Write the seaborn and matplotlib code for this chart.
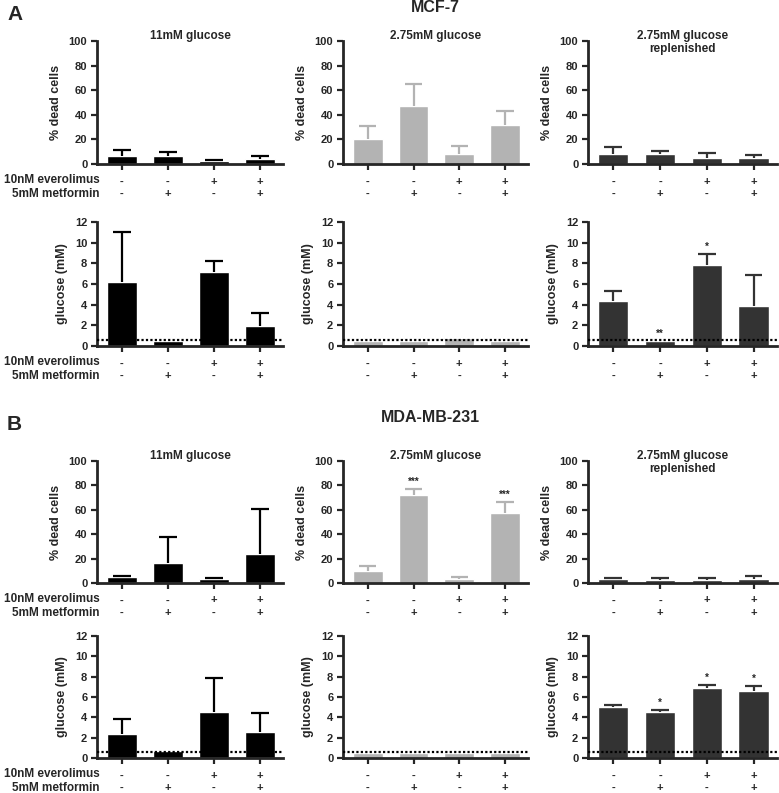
import numpy as np
import pandas as pd
import matplotlib
matplotlib.use("Agg")
import matplotlib.pyplot as plt
import seaborn as sns

conditions = ["11mM glucose", "2.75mM glucose", "2.75mM glucose\nreplenished"]
everolimus = ["-", "-", "+", "+"]
metformin = ["-", "+", "-", "+"]
treatments = ["ctrl", "met", "eve", "eve+met"]
bar_colors = ["#000000", "#b3b3b3", "#333333"]

# MCF-7
mcf7_dead = [[6.5, 6.5, 2.5, 4.0], [20, 47, 8, 32], [8.5, 8.0, 5.0, 4.5]]
mcf7_dead_err = [[4.5, 3.0, 0.5, 2.5], [11, 18, 6.5, 11], [5.5, 2.5, 4.0, 2.5]]
mcf7_dead_sig = [["", "", "", ""], ["", "", "", ""], ["", "", "", ""]]
mcf7_glc = [[6.2, 0.5, 7.2, 1.9], [0.45, 0.45, 0.75, 0.45], [4.4, 0.5, 7.85, 3.9]]
mcf7_glc_err = [[4.8, 0, 1.0, 1.3], [0, 0, 0, 0], [0.9, 0, 1.05, 2.95]]
mcf7_glc_sig = [["", "", "", ""], ["", "", "", ""], ["", "**", "*", ""]]

# MDA-MB-231
mda_dead = [[5, 16, 3.5, 24], [10, 72.5, 3, 57.5], [3, 2.5, 2.5, 3.5]]
mda_dead_err = [[1, 21.5, 0.5, 36.5], [4, 4.5, 2, 8.5], [1, 1.5, 1.5, 2.5]]
mda_dead_sig = [["", "", "", ""], ["", "***", "", "***"], ["", "", "", ""]]
mda_glc = [[2.4, 0.65, 4.5, 2.6], [0.45, 0.45, 0.45, 0.45], [5.0, 4.5, 6.85, 6.55]]
mda_glc_err = [[1.4, 0, 3.4, 1.8], [0, 0, 0, 0], [0.25, 0.2, 0.3, 0.5]]
mda_glc_sig = [["", "", "", ""], ["", "", "", ""], ["", "*", "*", "*"]]

glucose_limit = 0.6

sns.set_style("ticks")
plt.rcParams["font.family"] = ["Liberation Sans", "DejaVu Sans"]
plt.rcParams["font.weight"] = "bold"
plt.rcParams["axes.labelweight"] = "bold"

W, H = 779, 793
fig = plt.figure(figsize=(W / 100, H / 100), dpi=100)

col_x = [(97, 283), (343, 528), (588, 777)]
rows = [
    (41, 164, mcf7_dead, mcf7_dead_err, mcf7_dead_sig, "dead"),
    (222, 346, mcf7_glc, mcf7_glc_err, mcf7_glc_sig, "glc"),
    (461, 583, mda_dead, mda_dead_err, mda_dead_sig, "dead"),
    (636, 758, mda_glc, mda_glc_err, mda_glc_sig, "glc"),
]


def draw(ax, vals, errs, sigs, color, kind):
    df = pd.DataFrame({"treatment": treatments, "value": vals})
    sns.barplot(data=df, x="treatment", y="value", color=color, width=0.65,
                errorbar=None, saturation=1, ax=ax, zorder=2)
    xs = np.arange(len(vals))
    v = np.array(vals, dtype=float)
    e = np.array(errs, dtype=float)
    m = e > 0
    # upper-only error bars: stem + top cap
    ax.vlines(xs[m], v[m], v[m] + e[m], color=color, lw=1.6, zorder=3)
    ax.hlines(v[m] + e[m], xs[m] - 0.19, xs[m] + 0.19, color=color, lw=1.6, zorder=3)
    top = 100 if kind == "dead" else 12
    for x, val, er, s in zip(xs, vals, errs, sigs):
        if s:
            ax.text(x, val + er + top * 0.02, s, ha="center", va="bottom", fontsize=7)
    if kind == "dead":
        ax.set_ylim(0, 100)
        ax.set_yticks([0, 20, 40, 60, 80, 100])
        ax.set_ylabel("% dead cells", fontsize=9, labelpad=5)
    else:
        ax.set_ylim(0, 12)
        ax.set_yticks([0, 2, 4, 6, 8, 10, 12])
        ax.set_ylabel("glucose (mM)", fontsize=9, labelpad=5)
        ax.axhline(glucose_limit, color="black", ls=(0, (1, 1)), lw=1.6, zorder=4)
    ax.set_xlim(-0.54, 3.5)
    ax.set_xticks(xs)
    ax.set_xticklabels([f"{a}\n{b}" for a, b in zip(everolimus, metformin)],
                       fontsize=8, linespacing=1.35)
    ax.set_xlabel("")
    for sp in ["left", "bottom"]:
        ax.spines[sp].set_linewidth(2)
    sns.despine(ax=ax)
    ax.tick_params(axis="both", width=1.6, length=4, labelsize=8, pad=3)
    ax.tick_params(axis="x", pad=5)


for y0, y1, data, errs, sigs, kind in rows:
    for ci, (x0, x1) in enumerate(col_x):
        ax = fig.add_axes([x0 / W, 1 - y1 / H, (x1 - x0) / W, (y1 - y0) / H])
        draw(ax, data[ci], errs[ci], sigs[ci], bar_colors[ci], kind)
        if kind == "dead":
            ax.set_title(conditions[ci], fontsize=8.5, fontweight="bold", pad=2,
                         va="top", y=1.07)
    fig.text(100 / W, 1 - (y1 + 16) / H, "10nM everolimus", ha="right", va="center", fontsize=8.5)
    fig.text(100 / W, 1 - (y1 + 30) / H, "5mM metformin", ha="right", va="center", fontsize=8.5)

fig.text(7 / W, 1 - 15 / H, "A", fontsize=15, fontweight="bold", va="center")
fig.text(435 / W, 1 - 8 / H, "MCF-7", fontsize=11.5, fontweight="bold", ha="center", va="center")
fig.text(7 / W, 1 - 425 / H, "B", fontsize=15, fontweight="bold", va="center")
fig.text(430 / W, 1 - 418 / H, "MDA-MB-231", fontsize=11.5, fontweight="bold", ha="center", va="center")

fig.savefig("out.png", dpi=100, facecolor="white")
